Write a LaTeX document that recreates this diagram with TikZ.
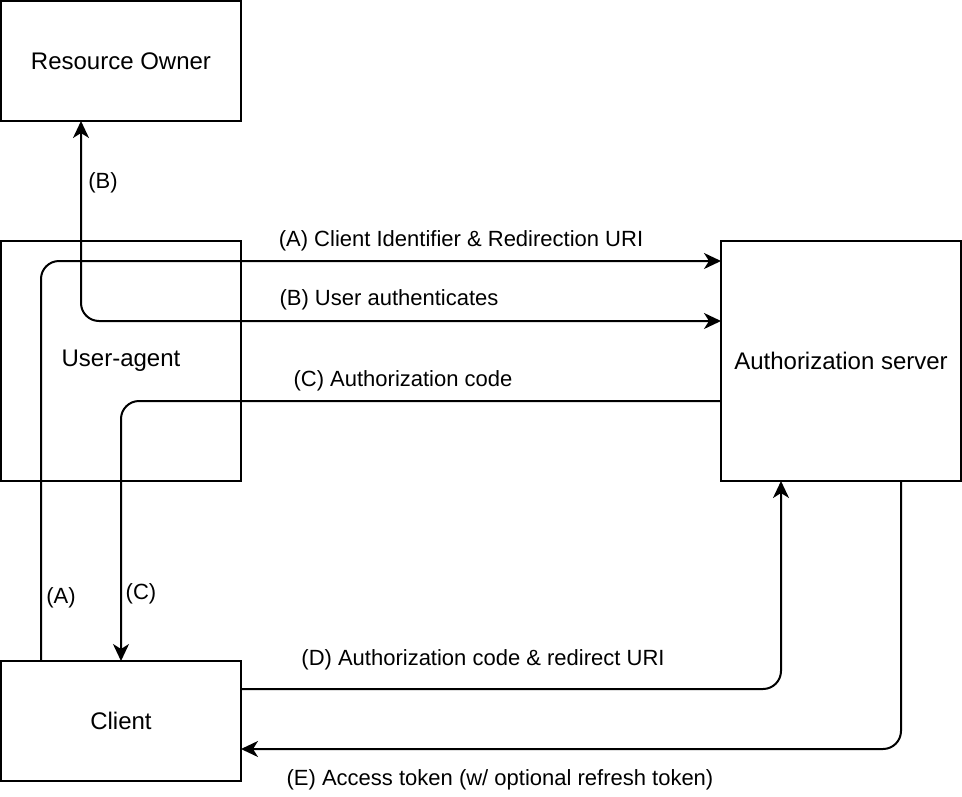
\documentclass[tikz,border=0pt]{standalone}
\usepackage{fontspec}
\setmainfont{Liberation Sans}
\usetikzlibrary{arrows.meta}
\tikzset{
  box/.style={draw=black, line width=2pt, fill=white, inner sep=0pt, outer sep=0pt,
    minimum width=240pt, font=\fontsize{24}{28}\selectfont},
  conn/.style={draw=black, line width=2pt, rounded corners=18pt,
    -{Stealth[length=17pt, width=16pt, inset=5pt]}},
  conn2/.style={draw=black, line width=2pt, rounded corners=18pt,
    {Stealth[length=17pt, width=16pt, inset=5pt]}-{Stealth[length=17pt, width=16pt, inset=5pt]}},
  lbl/.style={inner sep=0pt, font=\fontsize{22}{26}\selectfont}
}
\begin{document}
\begin{tikzpicture}[x=1pt, y=-1pt]
\useasboundingbox (0,0) rectangle (962,796);
\node[box, minimum height=120pt] (ro) at (121,61) {Resource Owner};
\node[box, minimum height=240pt] (ua) at (121,361) {User-agent};
\node[box, minimum height=240pt] (as) at (841,361) {Authorization server};
\node[box, minimum height=120pt] (cl) at (121,721) {Client};

\draw[conn] ([xshift=-80pt]cl.north) |- ([yshift=100pt]as.west);
\draw[conn2] ([xshift=-40pt]ro.south) |- ([yshift=40pt]as.west);
\draw[conn] ([yshift=-40pt]as.west) -| (cl.north);
\draw[conn] ([yshift=32pt]cl.east) -| ([xshift=-60pt]as.south);
\draw[conn] ([xshift=60pt]as.south) |- ([yshift=-28pt]cl.east);

\node[lbl] (la) at (461,241) {(A) Client Identifier \& Redirection URI};
\node[lbl] (lb) at (389,300) {(B) User authenticates};
\node[lbl] (lc) at (403,381) {(C) Authorization code};
\node[lbl] (ld) at (483,660) {(D) Authorization code \& redirect URI};
\node[lbl] (le) at (500,780) {(E) Access token (w/ optional refresh token)};
\node[lbl] (lb2) at (103,183) {(B)};
\node[lbl] (la2) at (61,598) {(A)};
\node[lbl] (lc2) at (141,594) {(C)};
\end{tikzpicture}
\end{document}
